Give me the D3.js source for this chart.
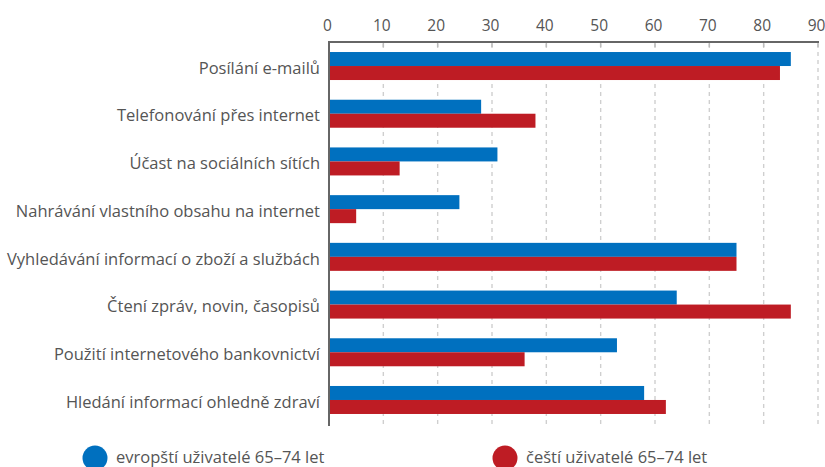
<!DOCTYPE html>
<meta charset="utf-8">
<head>
  <title>Internet activities 65-74</title>
  <style>
    body { margin: 0; background: #fff; font-family: "Open Sans", Lato, sans-serif; }
    svg { display: block; }
    .lbl { font-size: 16.5px; fill: #555; }
    .tick text { font-size: 15.5px; fill: #555; font-family: "Open Sans", sans-serif; }
    .grid line { stroke: #cfcfcf; stroke-width: 1.4; stroke-dasharray: 4,4; }
    .leg { font-size: 16.5px; fill: #555; }
  </style>
</head>
<body>
<script src="https://cdnjs.cloudflare.com/ajax/libs/d3/7.8.5/d3.min.js"></script>
<script>

// categories (top to bottom)
var categories = [
  "Posílání e-mailů",
  "Telefonování přes internet",
  "Účast na sociálních sítích",
  "Nahrávání vlastního obsahu na internet",
  "Vyhledávání informací o zboží a službách",
  "Čtení zpráv, novin, časopisů",
  "Použití internetového bankovnictví",
  "Hledání informací ohledně zdraví"
];
// series values (%)
var europe = [85, 28, 31, 24, 75, 64, 53, 58];
var czech  = [83, 38, 13, 5, 75, 85, 36, 62];
var tickValues = [0, 10, 20, 30, 40, 50, 60, 70, 80, 90];
var seriesNames = ["evropští uživatelé 65–74 let", "čeští uživatelé 65–74 let"];
var colors = ["#0070bf", "#be1c24"];

var width = 825, height = 467;
var x0 = 329, x1 = 818, yTop = 42, yBot = 424;

var svg = d3.select("body").append("svg")
    .attr("width", width)
    .attr("height", height);

var x = d3.scaleLinear().domain([0, 90]).range([x0, x1]);
var y = d3.scaleBand().domain(categories).range([yTop, yBot])
    .paddingInner(0.413).paddingOuter(0.21);
var ySub = d3.scaleBand().domain([0, 1]).range([0, y.bandwidth()]);

// dashed grid
svg.append("g").attr("class", "grid")
  .selectAll("line")
  .data(tickValues.slice(1))
  .enter().append("line")
    .attr("x1", function(d) { return x(d); })
    .attr("x2", function(d) { return x(d); })
    .attr("y1", yTop + 2)
    .attr("y2", 427);

// bars
var groups = svg.selectAll(".grp")
    .data(categories)
  .enter().append("g")
    .attr("class", "grp")
    .attr("transform", function(d) { return "translate(0," + y(d) + ")"; });

groups.selectAll("rect")
    .data(function(d, i) { return [europe[i], czech[i]]; })
  .enter().append("rect")
    .attr("x", x(0))
    .attr("y", function(d, j) { return ySub(j); })
    .attr("width", function(d) { return x(d) - x(0); })
    .attr("height", ySub.bandwidth())
    .attr("fill", function(d, j) { return colors[j]; });

// category labels
groups.append("text")
    .attr("class", "lbl")
    .attr("x", 320)
    .attr("y", y.bandwidth() / 2 + 2)
    .attr("dy", "0.35em")
    .attr("text-anchor", "end")
    .text(function(d) { return d; });

// top axis
var axis = svg.append("g")
    .attr("transform", "translate(0," + yTop + ")")
    .call(d3.axisTop(x).tickValues(tickValues).tickSize(0).tickPadding(11));
axis.select(".domain").remove();
axis.selectAll(".tick text").attr("dx", "-2");

svg.append("g").selectAll("line")
    .data(tickValues.slice(1))
  .enter().append("line")
    .attr("x1", function(d) { return x(d); })
    .attr("x2", function(d) { return x(d); })
    .attr("y1", yTop).attr("y2", yTop + 5)
    .attr("stroke", "#bbb").attr("stroke-width", 1.5);

svg.append("line")
    .attr("x1", x0 - 1).attr("x2", x1 + 1)
    .attr("y1", yTop).attr("y2", yTop)
    .attr("stroke", "#666").attr("stroke-width", 2);

svg.append("line")
    .attr("x1", x0).attr("x2", x0)
    .attr("y1", yTop - 1).attr("y2", 426)
    .attr("stroke", "#666").attr("stroke-width", 2);

// legend
var legX = [95, 505];
var leg = svg.selectAll(".legend")
    .data(seriesNames)
  .enter().append("g")
    .attr("transform", function(d, i) { return "translate(" + legX[i] + ",458)"; });
leg.append("circle")
    .attr("r", 12.5)
    .attr("fill", function(d, i) { return colors[i]; });
leg.append("text")
    .attr("class", "leg")
    .attr("x", 21)
    .attr("y", 5)
    .text(function(d) { return d; });

</script>
</body>
